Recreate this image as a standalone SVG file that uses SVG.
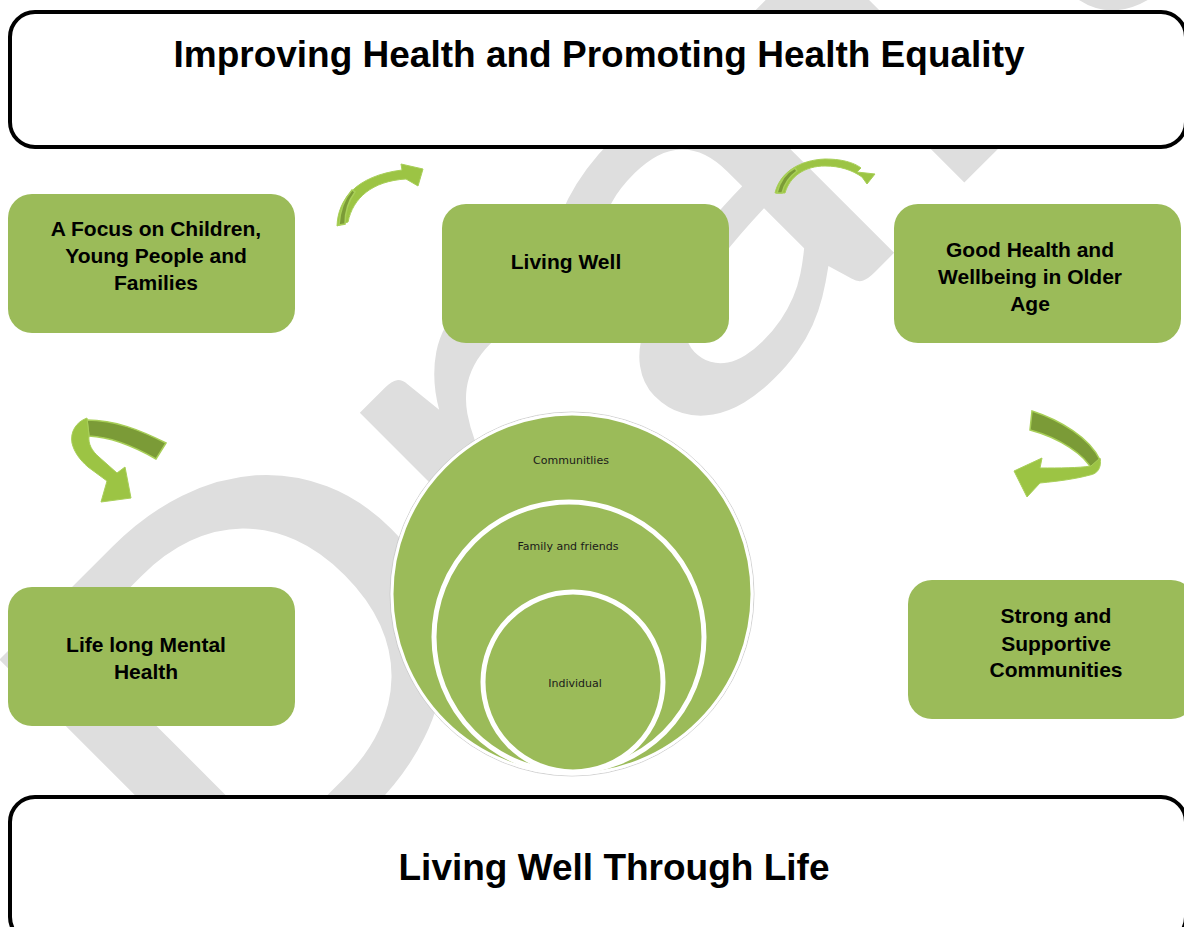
<svg xmlns="http://www.w3.org/2000/svg" width="1184" height="927" viewBox="0 0 1184 927">
<style>
.wm{font-family:Carlito,Lato,sans-serif;fill:#dedede}
.box{fill:#9bbb59}
.lbl{font-family:"Liberation Sans",Arial,sans-serif;font-weight:bold;font-size:21px;fill:#000;text-anchor:middle}
.title{font-family:"Liberation Sans",Arial,sans-serif;font-weight:bold;font-size:37px;fill:#000;text-anchor:middle}
.frame{fill:#fff;stroke:#000;stroke-width:4}
.ring{fill:#9bbb59;stroke:#fff;stroke-width:5}
.ctext{font-family:"DejaVu Sans",Verdana,sans-serif;font-size:11px;fill:#1a1a1a;text-anchor:middle}
.arL{fill:#9cc444;stroke:#a8cf58;stroke-width:1}
.arD{fill:#7b9b37;stroke:#a8cf58;stroke-width:1.5}
</style>
<g id="watermark" transform="translate(253,908) rotate(-45) scale(1.25,1)"><text class="wm" x="0" y="0" font-size="575"><tspan dx="-42" dy="14">D</tspan><tspan dx="-8" dy="-14">r</tspan><tspan dx="-11" dy="-10">aft</tspan></text></g>
<g id="header"><rect class="frame" x="10" y="12" width="1176" height="135" rx="25"/><text class="title" x="599" y="67">Improving Health and Promoting Health Equality</text></g>
<g id="footer"><rect class="frame" x="10" y="797" width="1176" height="145" rx="25"/><text class="title" x="614" y="880">Living Well Through Life</text></g>
<g id="node-children"><rect class="box" x="8" y="194" width="287" height="139" rx="24"/><text class="lbl" x="156" y="236">A Focus on Children,</text><text class="lbl" x="156" y="263">Young People and</text><text class="lbl" x="156" y="290">Families</text></g>
<g id="node-living-well"><rect class="box" x="442" y="204" width="287" height="139" rx="24"/><text class="lbl" x="566" y="269">Living Well</text></g>
<g id="node-older-age"><rect class="box" x="894" y="204" width="287" height="139" rx="24"/><text class="lbl" x="1030" y="257">Good Health and</text><text class="lbl" x="1030" y="284">Wellbeing in Older</text><text class="lbl" x="1030" y="311">Age</text></g>
<g id="node-mental-health"><rect class="box" x="8" y="587" width="287" height="139" rx="24"/><text class="lbl" x="146" y="652">Life long Mental</text><text class="lbl" x="146" y="679">Health</text></g>
<g id="node-communities"><rect class="box" x="908" y="580" width="287" height="139" rx="24"/><text class="lbl" x="1056" y="623">Strong and</text><text class="lbl" x="1056" y="651">Supportive</text><text class="lbl" x="1056" y="677">Communities</text></g>
<g id="node-circles">
<circle cx="572" cy="594" r="182" fill="none" stroke="#c8c8c8" stroke-width="0.8"/>
<circle cx="572" cy="594" r="180" fill="#9bbb59" stroke="#fff" stroke-width="3"/>
<circle class="ring" cx="569" cy="637" r="135"/>
<circle class="ring" cx="573" cy="682" r="90"/>
<text class="ctext" x="571" y="464">Communitlies</text>
<text class="ctext" x="568" y="550">Family and friends</text>
<text class="ctext" x="575" y="687">Individual</text>
</g>
<g id="connectors">
<path class="arL" d="M337,226 C338,200 355,176 402,170 L401,164 L423,169 L418,186 L406,179 C372,181 353,198 348,222 Z"/>
<path class="arD" stroke="none" d="M339,225 C340,210 345,198 352,190 L355,192 C349,200 345,212 345,224 Z"/>
<path class="arL" d="M775,193 C780,172 800,160 825,159 C845,159 856,164 861,168 L857,172 L875,174 L867,184 L862,177 C852,170 840,166 825,166 C805,166 790,176 785,193 Z"/>
<path class="arD" stroke="none" d="M777,193 C780,180 787,172 795,168 L797,171 C790,176 784,184 782,193 Z"/>
<path class="arD" d="M87,420 C115,420 140,430 166,443 L156,459 C135,447 112,437 89,436 Z"/>
<path class="arL" d="M87,418 C76,422 70,432 72,443 C74,452 80,460 88,467 L107,481 L101,502 L131,498 L125,467 L117,473 L99,457 C92,451 88,444 89,436 Z"/>
<path class="arD" d="M1032,411 C1060,420 1090,438 1100,460 L1092,470 C1085,455 1060,438 1030,430 Z"/>
<path class="arL" d="M1100,458 C1102,468 1097,474 1090,475 C1075,479 1060,481 1040,483 L1027,497 L1014,471 L1042,458 L1040,468 C1060,468 1078,468 1091,466 Z"/>
</g>
</svg>
